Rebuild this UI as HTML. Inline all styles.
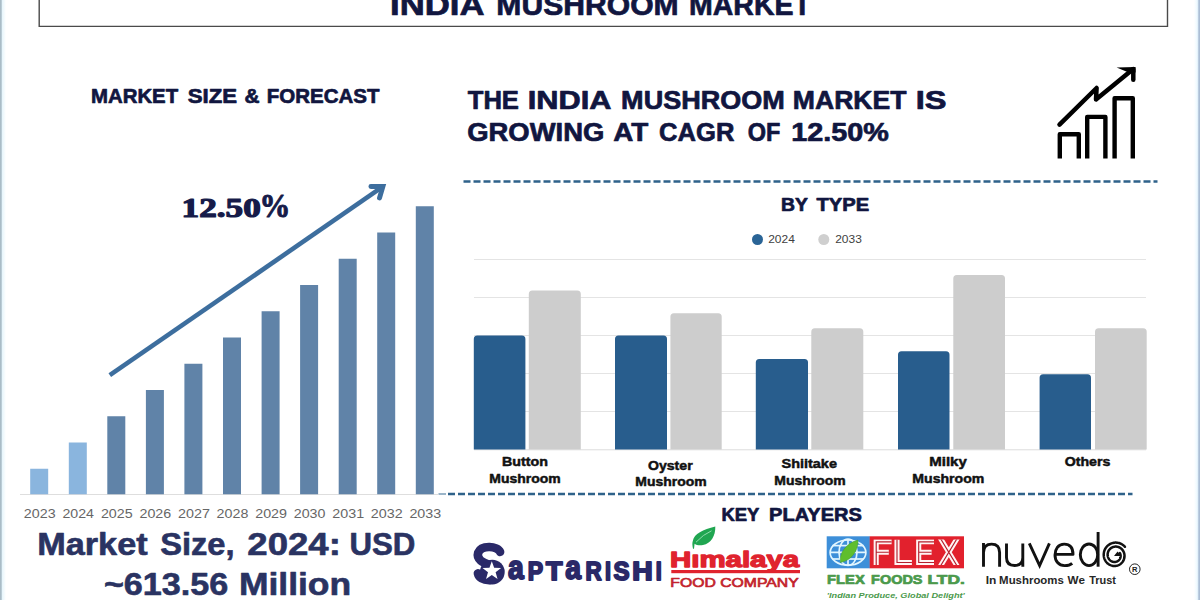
<!DOCTYPE html>
<html>
<head>
<meta charset="utf-8">
<title>India Mushroom Market</title>
<style>
  html, body { margin: 0; padding: 0; background: #ffffff; }
  body { width: 1200px; height: 600px; overflow: hidden; font-family: "Liberation Sans", sans-serif; }
  svg { display: block; }
  text { font-family: "Liberation Sans", sans-serif; }
  .serif { font-family: "Liberation Serif", serif; }
</style>
</head>
<body>
<svg width="1200" height="600" viewBox="0 0 1200 600">
  <defs>
    <linearGradient id="edgeL" x1="0" x2="1" y1="0" y2="0">
      <stop offset="0" stop-color="#a8bbc5"/>
      <stop offset="0.2" stop-color="#acbfca"/>
      <stop offset="0.4" stop-color="#e8f6fc"/>
      <stop offset="1" stop-color="#ffffff"/>
    </linearGradient>
    <linearGradient id="edgeR" x1="0" x2="1" y1="0" y2="0">
      <stop offset="0" stop-color="#ffffff"/>
      <stop offset="0.55" stop-color="#ecf9ff"/>
      <stop offset="0.7" stop-color="#c9daea"/>
      <stop offset="0.8" stop-color="#adc0d6"/>
      <stop offset="1" stop-color="#a9bcd4"/>
    </linearGradient>
  </defs>
  <rect x="0" y="0" width="1200" height="600" fill="#ffffff"/>
  <rect x="0" y="0" width="6" height="600" fill="url(#edgeL)"/>
  <rect x="1194" y="0" width="6" height="600" fill="url(#edgeR)"/>

  <!-- title box -->
  <path d="M39.2 -5 V26.4 H1167.5 V-5" fill="none" stroke="#4a4a4a" stroke-width="1.4"/>
  <g id="title">
    <text x="390.03" y="15.4" font-size="29.5" fill="#11163f" textLength="94.54" lengthAdjust="spacingAndGlyphs" font-weight="bold" stroke="#11163f" stroke-width="0.7" stroke-linejoin="round">INDIA</text>
    <text x="496.34" y="15.4" font-size="29.5" fill="#11163f" textLength="182.33" lengthAdjust="spacingAndGlyphs" font-weight="bold" stroke="#11163f" stroke-width="0.7" stroke-linejoin="round">MUSHROOM</text>
    <text x="688.94" y="15.4" font-size="29.5" fill="#11163f" textLength="122.01" lengthAdjust="spacingAndGlyphs" font-weight="bold" stroke="#11163f" stroke-width="0.7" stroke-linejoin="round">MARKET</text>
  </g>
  <g id="lhead">
    <text x="90.99" y="103" font-size="20.9" fill="#11163f" textLength="87.18" lengthAdjust="spacingAndGlyphs" font-weight="bold" stroke="#11163f" stroke-width="0.7" stroke-linejoin="round">MARKET</text>
    <text x="187.71" y="103" font-size="20.9" fill="#11163f" textLength="49.31" lengthAdjust="spacingAndGlyphs" font-weight="bold" stroke="#11163f" stroke-width="0.7" stroke-linejoin="round">SIZE</text>
    <text x="244.43" y="103" font-size="20.9" fill="#11163f" textLength="15.07" lengthAdjust="spacingAndGlyphs" font-weight="bold" stroke="#11163f" stroke-width="0.7" stroke-linejoin="round">&amp;</text>
    <text x="266.78" y="103" font-size="20.9" fill="#11163f" textLength="112.69" lengthAdjust="spacingAndGlyphs" font-weight="bold" stroke="#11163f" stroke-width="0.7" stroke-linejoin="round">FORECAST</text>
  </g>
  <g id="rhead">
    <text x="467.76" y="108.7" font-size="25" fill="#11163f" textLength="51.19" lengthAdjust="spacingAndGlyphs" font-weight="bold" stroke="#11163f" stroke-width="0.7" stroke-linejoin="round">THE</text>
    <text x="527.79" y="108.7" font-size="25" fill="#11163f" textLength="83.67" lengthAdjust="spacingAndGlyphs" font-weight="bold" stroke="#11163f" stroke-width="0.7" stroke-linejoin="round">INDIA</text>
    <text x="621.14" y="108.7" font-size="25" fill="#11163f" textLength="163.62" lengthAdjust="spacingAndGlyphs" font-weight="bold" stroke="#11163f" stroke-width="0.7" stroke-linejoin="round">MUSHROOM</text>
    <text x="792.87" y="108.7" font-size="25" fill="#11163f" textLength="113.66" lengthAdjust="spacingAndGlyphs" font-weight="bold" stroke="#11163f" stroke-width="0.7" stroke-linejoin="round">MARKET</text>
    <text x="915.77" y="108.7" font-size="25" fill="#11163f" textLength="30.75" lengthAdjust="spacingAndGlyphs" font-weight="bold" stroke="#11163f" stroke-width="0.7" stroke-linejoin="round">IS</text>
    <text x="467.23" y="140.9" font-size="25" fill="#11163f" textLength="137.13" lengthAdjust="spacingAndGlyphs" font-weight="bold" stroke="#11163f" stroke-width="0.7" stroke-linejoin="round">GROWING</text>
    <text x="613.2" y="140.9" font-size="25" fill="#11163f" textLength="35.04" lengthAdjust="spacingAndGlyphs" font-weight="bold" stroke="#11163f" stroke-width="0.7" stroke-linejoin="round">AT</text>
    <text x="659.1" y="140.9" font-size="25" fill="#11163f" textLength="75.27" lengthAdjust="spacingAndGlyphs" font-weight="bold" stroke="#11163f" stroke-width="0.7" stroke-linejoin="round">CAGR</text>
    <text x="747.69" y="140.9" font-size="25" fill="#11163f" textLength="32.62" lengthAdjust="spacingAndGlyphs" font-weight="bold" stroke="#11163f" stroke-width="0.7" stroke-linejoin="round">OF</text>
    <text x="791.34" y="140.9" font-size="25" fill="#11163f" textLength="97.57" lengthAdjust="spacingAndGlyphs" font-weight="bold" stroke="#11163f" stroke-width="0.7" stroke-linejoin="round">12.50%</text>
  </g>

  <!-- growth icon -->
  <g id="icon" fill="none" stroke="#000000" stroke-width="4.4" stroke-linecap="butt" stroke-linejoin="round">
    <path d="M1059.8 158.5 V134.3 H1078.8 V158.5"/>
    <path d="M1087.2 158.5 V116.9 H1105.4 V158.5"/>
    <path d="M1114.6 158.5 V98.3 H1132.8 V158.5"/>
    <path d="M1059.5 124.6 L1096.6 88 L1096 99.4 L1132.6 69.6" stroke-width="4.5" stroke-linecap="round" stroke-linejoin="round"/>
    <path d="M1133.3 69 V79.8" stroke-width="4.5" stroke-linecap="round"/>
    <path d="M1116.6 67.5 L1135.55 66.9 L1135.55 72.5 L1127.5 72 Z" fill="#000000" stroke="none"/>
  </g>

  <!-- dashed separators -->
  <line x1="463.5" y1="181.5" x2="1157.5" y2="181.5" stroke="#2f628a" stroke-width="2.6" stroke-dasharray="7 3"/>
  <line x1="448" y1="494" x2="1132.5" y2="494" stroke="#2f628a" stroke-width="2.5" stroke-dasharray="7 3"/>
  <line x1="438.5" y1="494" x2="446" y2="494" stroke="#9bb5c9" stroke-width="2"/>

  <!-- BY TYPE -->
  <text x="781.05" y="211.1" font-size="18.6" fill="#11163f" textLength="26.91" lengthAdjust="spacingAndGlyphs" font-weight="bold" stroke="#11163f" stroke-width="0.7" stroke-linejoin="round">BY</text>
    <text x="816.42" y="211.1" font-size="18.6" fill="#11163f" textLength="52.72" lengthAdjust="spacingAndGlyphs" font-weight="bold" stroke="#11163f" stroke-width="0.7" stroke-linejoin="round">TYPE</text>
  <circle cx="757.5" cy="239.5" r="5.5" fill="#2a6496"/>
  <text x="768.2" y="243.3" font-size="10.6" fill="#3f3f3f" textLength="26.65" lengthAdjust="spacingAndGlyphs">2024</text>
  <circle cx="823.8" cy="239.5" r="5.5" fill="#cfcfcf"/>
  <text x="835.2" y="243.3" font-size="10.6" fill="#3f3f3f" textLength="26.63" lengthAdjust="spacingAndGlyphs">2033</text>

  <!-- right chart grid -->
  <g stroke="#e4e4e4" stroke-width="1">
    <line x1="474" y1="259.5" x2="1146" y2="259.5"/>
    <line x1="474" y1="297.5" x2="1146" y2="297.5"/>
    <line x1="474" y1="335.5" x2="1146" y2="335.5"/>
    <line x1="474" y1="373.5" x2="1146" y2="373.5"/>
    <line x1="474" y1="411.5" x2="1146" y2="411.5"/>
    <line x1="474" y1="449.8" x2="1146" y2="449.8" stroke="#dcdcdc"/>
  </g>
  <g id="rbars">
    <path fill="#285d8d" d="M473.8 449.5 V338.9 a3.5 3.5 0 0 1 3.5 -3.5 H521.9 a3.5 3.5 0 0 1 3.5 3.5 V449.5 Z"/>
    <path fill="#cdcdcd" d="M528.8 449.5 V293.9 a3.5 3.5 0 0 1 3.5 -3.5 H577.3 a3.5 3.5 0 0 1 3.5 3.5 V449.5 Z"/>
    <path fill="#285d8d" d="M615 449.5 V338.9 a3.5 3.5 0 0 1 3.5 -3.5 H663.5 a3.5 3.5 0 0 1 3.5 3.5 V449.5 Z"/>
    <path fill="#cdcdcd" d="M670.4 449.5 V316.8 a3.5 3.5 0 0 1 3.5 -3.5 H718.2 a3.5 3.5 0 0 1 3.5 3.5 V449.5 Z"/>
    <path fill="#285d8d" d="M755.8 449.5 V362.5 a3.5 3.5 0 0 1 3.5 -3.5 H804.5 a3.5 3.5 0 0 1 3.5 3.5 V449.5 Z"/>
    <path fill="#cdcdcd" d="M811.3 449.5 V331.8 a3.5 3.5 0 0 1 3.5 -3.5 H859.8 a3.5 3.5 0 0 1 3.5 3.5 V449.5 Z"/>
    <path fill="#285d8d" d="M898 449.5 V354.8 a3.5 3.5 0 0 1 3.5 -3.5 H946.0 a3.5 3.5 0 0 1 3.5 3.5 V449.5 Z"/>
    <path fill="#cdcdcd" d="M953.3 449.5 V278.5 a3.5 3.5 0 0 1 3.5 -3.5 H1001.5 a3.5 3.5 0 0 1 3.5 3.5 V449.5 Z"/>
    <path fill="#285d8d" d="M1039.6 449.5 V377.7 a3.5 3.5 0 0 1 3.5 -3.5 H1087.5 a3.5 3.5 0 0 1 3.5 3.5 V449.5 Z"/>
    <path fill="#cdcdcd" d="M1095 449.5 V331.8 a3.5 3.5 0 0 1 3.5 -3.5 H1143.2 a3.5 3.5 0 0 1 3.5 3.5 V449.5 Z"/>
  </g>
  <g id="rlabels">
    <text x="502.0" y="465.9" font-size="13.2" fill="#111111" textLength="45.94" lengthAdjust="spacingAndGlyphs" font-weight="bold" stroke="#111111" stroke-width="0.5" stroke-linejoin="round">Button</text>
    <text x="489.32" y="482.8" font-size="13.2" fill="#111111" textLength="71.3" lengthAdjust="spacingAndGlyphs" font-weight="bold" stroke="#111111" stroke-width="0.5" stroke-linejoin="round">Mushroom</text>
    <text x="647.97" y="469.6" font-size="13.2" fill="#111111" textLength="44.69" lengthAdjust="spacingAndGlyphs" font-weight="bold" stroke="#111111" stroke-width="0.5" stroke-linejoin="round">Oyster</text>
    <text x="635.32" y="485.9" font-size="13.2" fill="#111111" textLength="71.3" lengthAdjust="spacingAndGlyphs" font-weight="bold" stroke="#111111" stroke-width="0.5" stroke-linejoin="round">Mushroom</text>
    <text x="781.53" y="468.4" font-size="13.2" fill="#111111" textLength="55.41" lengthAdjust="spacingAndGlyphs" font-weight="bold" stroke="#111111" stroke-width="0.5" stroke-linejoin="round">Shiitake</text>
    <text x="774.32" y="484.6" font-size="13.2" fill="#111111" textLength="71.3" lengthAdjust="spacingAndGlyphs" font-weight="bold" stroke="#111111" stroke-width="0.5" stroke-linejoin="round">Mushroom</text>
    <text x="929.24" y="466.1" font-size="13.2" fill="#111111" textLength="37.59" lengthAdjust="spacingAndGlyphs" font-weight="bold" stroke="#111111" stroke-width="0.5" stroke-linejoin="round">Milky</text>
    <text x="912.31" y="482.5" font-size="13.2" fill="#111111" textLength="72.02" lengthAdjust="spacingAndGlyphs" font-weight="bold" stroke="#111111" stroke-width="0.5" stroke-linejoin="round">Mushroom</text>
    <text x="1064.67" y="465.5" font-size="13.2" fill="#111111" textLength="45.66" lengthAdjust="spacingAndGlyphs" font-weight="bold" stroke="#111111" stroke-width="0.5" stroke-linejoin="round">Others</text>
  </g>

  <!-- left chart -->
  <line x1="20" y1="494.5" x2="438" y2="494.5" stroke="#dedede" stroke-width="1.2"/>
  <g id="lbars">
    <rect x="30.2" y="468.75" width="18" height="25.50" fill="#8ab5de"/>
    <rect x="68.8" y="442.50" width="18" height="51.75" fill="#8ab5de"/>
    <rect x="107.3" y="416.25" width="18" height="78.00" fill="#6083a8"/>
    <rect x="145.9" y="390.00" width="18" height="104.25" fill="#6083a8"/>
    <rect x="184.4" y="363.75" width="18" height="130.50" fill="#6083a8"/>
    <rect x="223.0" y="337.50" width="18" height="156.75" fill="#6083a8"/>
    <rect x="261.6" y="311.25" width="18" height="183.00" fill="#6083a8"/>
    <rect x="300.1" y="285.00" width="18" height="209.25" fill="#6083a8"/>
    <rect x="338.7" y="258.75" width="18" height="235.50" fill="#6083a8"/>
    <rect x="377.2" y="232.50" width="18" height="261.75" fill="#6083a8"/>
    <rect x="415.8" y="206.25" width="18" height="288.00" fill="#6083a8"/>
  </g>
  <g id="years">
    <text x="23.83" y="518.3" font-size="13.4" fill="#666666" textLength="31.74" lengthAdjust="spacingAndGlyphs">2023</text>
    <text x="62.4" y="518.3" font-size="13.4" fill="#666666" textLength="31.53" lengthAdjust="spacingAndGlyphs">2024</text>
    <text x="100.95" y="518.3" font-size="13.4" fill="#666666" textLength="31.72" lengthAdjust="spacingAndGlyphs">2025</text>
    <text x="139.51" y="518.3" font-size="13.4" fill="#666666" textLength="31.74" lengthAdjust="spacingAndGlyphs">2026</text>
    <text x="178.07" y="518.3" font-size="13.4" fill="#666666" textLength="31.84" lengthAdjust="spacingAndGlyphs">2027</text>
    <text x="216.63" y="518.3" font-size="13.4" fill="#666666" textLength="31.74" lengthAdjust="spacingAndGlyphs">2028</text>
    <text x="255.19" y="518.3" font-size="13.4" fill="#666666" textLength="31.8" lengthAdjust="spacingAndGlyphs">2029</text>
    <text x="293.75" y="518.3" font-size="13.4" fill="#666666" textLength="31.67" lengthAdjust="spacingAndGlyphs">2030</text>
    <text x="332.31" y="518.3" font-size="13.4" fill="#666666" textLength="31.82" lengthAdjust="spacingAndGlyphs">2031</text>
    <text x="370.87" y="518.3" font-size="13.4" fill="#666666" textLength="31.84" lengthAdjust="spacingAndGlyphs">2032</text>
    <text x="409.43" y="518.3" font-size="13.4" fill="#666666" textLength="31.74" lengthAdjust="spacingAndGlyphs">2033</text>
  </g>
  <!-- growth arrow -->
  <g fill="none" stroke="#3d6e9e" stroke-width="4.6" stroke-linecap="round" stroke-linejoin="miter">
    <line x1="109.8" y1="375.2" x2="382" y2="187.2" stroke-linecap="butt"/>
    <path d="M370.9 186.5 L382.9 186.5 L379.5 198" stroke-width="4.9"/>
  </g>
  <text x="181.58" y="216.9" font-size="27.6" fill="#161b49" textLength="79.16" lengthAdjust="spacingAndGlyphs" font-weight="bold" class="serif" stroke="#161b49" stroke-width="1.2" stroke-linejoin="round">12.50</text>
  <text x="259.54" y="217.3" font-size="33.4" fill="#161b49" textLength="30.86" lengthAdjust="spacingAndGlyphs" font-weight="bold" class="serif" stroke="#161b49" stroke-width="1.0" stroke-linejoin="round">%</text>

  <!-- market size text -->
  <g id="msize">
    <text x="37.21" y="555.4" font-size="30.6" fill="#2a3362" textLength="110.41" lengthAdjust="spacingAndGlyphs" font-weight="bold" stroke="#2a3362" stroke-width="0.6" stroke-linejoin="round">Market</text>
    <text x="160.16" y="555.4" font-size="30.6" fill="#2a3362" textLength="74.43" lengthAdjust="spacingAndGlyphs" font-weight="bold" stroke="#2a3362" stroke-width="0.6" stroke-linejoin="round">Size,</text>
    <text x="247.33" y="555.4" font-size="30.6" fill="#2a3362" textLength="93.48" lengthAdjust="spacingAndGlyphs" font-weight="bold" stroke="#2a3362" stroke-width="0.6" stroke-linejoin="round">2024:</text>
    <text x="349.42" y="555.4" font-size="30.6" fill="#2a3362" textLength="65.99" lengthAdjust="spacingAndGlyphs" font-weight="bold" stroke="#2a3362" stroke-width="0.6" stroke-linejoin="round">USD</text>
    <text x="103.95" y="594.6" font-size="31" fill="#2a3362" textLength="124.28" lengthAdjust="spacingAndGlyphs" font-weight="bold" stroke="#2a3362" stroke-width="0.6" stroke-linejoin="round">~613.56</text>
    <text x="238.93" y="594.6" font-size="31" fill="#2a3362" textLength="112.27" lengthAdjust="spacingAndGlyphs" font-weight="bold" stroke="#2a3362" stroke-width="0.6" stroke-linejoin="round">Million</text>
  </g>

  <!-- KEY PLAYERS -->
  <text x="721.41" y="520.6" font-size="18.8" fill="#11163f" textLength="38.04" lengthAdjust="spacingAndGlyphs" font-weight="bold" stroke="#11163f" stroke-width="0.7" stroke-linejoin="round">KEY</text>
    <text x="769.03" y="520.6" font-size="18.8" fill="#11163f" textLength="92.88" lengthAdjust="spacingAndGlyphs" font-weight="bold" stroke="#11163f" stroke-width="0.7" stroke-linejoin="round">PLAYERS</text>

  <g id="saptarishi">
    <g fill="none" stroke="#2a2968" stroke-width="8.6" stroke-linecap="round" stroke-linejoin="round">
      <path d="M500.1 551.9 C497.6 546 481.6 544.6 478.2 552.6 C476 560 483.5 562.6 491 565.5"/>
      <path d="M477.9 573.4 C478.8 577.6 483 580.3 489.5 580.2"/>
    </g>
    <circle cx="492.3" cy="572.1" r="12.4" fill="#2a2968"/>
    <polygon points="491.80,561.20 494.15,567.76 501.12,567.97 495.60,572.24 497.56,578.93 491.80,575.00 486.04,578.93 488.00,572.24 482.48,567.97 489.45,567.76" fill="#ffffff"/>
    <text x="527.71" y="579.6" font-size="25.4" fill="#2a2968" textLength="15.32" lengthAdjust="spacingAndGlyphs" font-weight="bold" stroke="#2a2968" stroke-width="1.9" stroke-linejoin="round">P</text>
    <text x="545.95" y="579.6" font-size="25.4" fill="#2a2968" textLength="16.39" lengthAdjust="spacingAndGlyphs" font-weight="bold" stroke="#2a2968" stroke-width="1.9" stroke-linejoin="round">T</text>
    <text x="585.55" y="579.6" font-size="25.4" fill="#2a2968" textLength="16.16" lengthAdjust="spacingAndGlyphs" font-weight="bold" stroke="#2a2968" stroke-width="1.9" stroke-linejoin="round">R</text>
    <text x="605.01" y="579.6" font-size="25.4" fill="#2a2968" textLength="5.98" lengthAdjust="spacingAndGlyphs" font-weight="bold" stroke="#2a2968" stroke-width="1.9" stroke-linejoin="round">I</text>
    <text x="613.56" y="579.6" font-size="25.4" fill="#2a2968" textLength="16.03" lengthAdjust="spacingAndGlyphs" font-weight="bold" stroke="#2a2968" stroke-width="1.9" stroke-linejoin="round">S</text>
    <text x="632.16" y="579.6" font-size="25.4" fill="#2a2968" textLength="20.39" lengthAdjust="spacingAndGlyphs" font-weight="bold" stroke="#2a2968" stroke-width="1.9" stroke-linejoin="round">H</text>
    <text x="655.81" y="579.6" font-size="25.4" fill="#2a2968" textLength="5.98" lengthAdjust="spacingAndGlyphs" font-weight="bold" stroke="#2a2968" stroke-width="1.9" stroke-linejoin="round">I</text>
    <text x="507.92" y="579.4" font-size="32.6" fill="#2a2968" textLength="15.75" lengthAdjust="spacingAndGlyphs" font-weight="bold" stroke="#2a2968" stroke-width="1.9" stroke-linejoin="round">a</text>
    <text x="565.32" y="579.4" font-size="32.6" fill="#2a2968" textLength="15.75" lengthAdjust="spacingAndGlyphs" font-weight="bold" stroke="#2a2968" stroke-width="1.9" stroke-linejoin="round">a</text>
  </g>
  <g id="himalaya">
    <path d="M693 548.8 C692.4 545.5 692 543.4 692.8 541 C694 534 703 529.6 715.3 526.6 C715.6 536 711 543.6 703 545.1 C699.4 545.7 696.4 545.2 694.6 543.8 L694 548.8 Z" fill="#20a651"/>
    <path d="M696 542.2 Q703 534.5 711.5 530.8" fill="none" stroke="#8fdcab" stroke-width="1"/>
    <text x="669.98" y="566.6" font-size="22.5" fill="#e0232e" textLength="129.18" lengthAdjust="spacingAndGlyphs" font-weight="bold" stroke="#e0232e" stroke-width="1.3" stroke-linejoin="round">Hımalaya</text>
    <rect x="671.3" y="570" width="128.7" height="3.2" fill="#e0232e"/>
    <text x="670.37" y="586.6" font-size="13.6" fill="#c3242d" textLength="128.32" lengthAdjust="spacingAndGlyphs" stroke="#c3242d" stroke-width="0.7" stroke-linejoin="round">FOOD COMPANY</text>
  </g>
  <g id="flex">
    <rect x="826.7" y="536.3" width="43.2" height="32" fill="#3d8fd9"/>
    <rect x="869.7" y="536.3" width="94.3" height="32" fill="#e2212d"/>
    <g fill="none" stroke="#e2f6ff" stroke-width="1.7">
      <ellipse cx="848" cy="552.6" rx="17.9" ry="12.6"/>
      <ellipse cx="848" cy="552.3" rx="9" ry="13.2"/>
      <line x1="848" y1="539" x2="848" y2="565.6"/>
      <line x1="830" y1="552.3" x2="866" y2="552.3"/>
      <line x1="832.5" y1="545.6" x2="863.5" y2="545.6"/>
      <line x1="832.5" y1="559" x2="863.5" y2="559"/>
    </g>
    <path d="M840.5 562.5 C839 554 845 543.5 858 540 C858.5 550 852 560.5 840.5 562.5 Z" fill="#5fbe2d" stroke="#3c9a33" stroke-width="0.5"/>
    <clipPath id="flexclip"><rect x="870" y="539.4" width="94" height="25.5"/></clipPath>
    <g clip-path="url(#flexclip)" fill="none" stroke-linejoin="miter" stroke-linecap="butt">
      <path d="M876.2 564.9 V541.8 H891.6 M876.2 552.2 H888.8 M897 539.4 V562.5 H911.9 M934 541.8 H918.7 V562.5 H934 M918.7 552.2 H931.6 M939.6 537 L958 567.5 M958 537 L939.6 567.5" stroke="#fff4f4" stroke-width="5.1"/>
      <path d="M876.2 564.9 V541.8 H891.6 M876.2 552.2 H888.8 M897 539.4 V562.5 H911.9 M934 541.8 H918.7 V562.5 H934 M918.7 552.2 H931.6 M939.6 537 L958 567.5 M958 537 L939.6 567.5" stroke="#b4202e" stroke-width="1.15"/>
    </g>
    <text x="827.06" y="583.6" font-size="12.4" fill="#4b9a4c" textLength="37.72" lengthAdjust="spacingAndGlyphs" font-weight="bold" stroke="#4b9a4c" stroke-width="0.7" stroke-linejoin="round">FLEX</text>
    <text x="871.08" y="583.6" font-size="12.4" fill="#4b9a4c" textLength="51.43" lengthAdjust="spacingAndGlyphs" font-weight="bold" stroke="#4b9a4c" stroke-width="0.7" stroke-linejoin="round">FOODS</text>
    <text x="927.53" y="583.6" font-size="12.4" fill="#4b9a4c" textLength="37.28" lengthAdjust="spacingAndGlyphs" font-weight="bold" stroke="#4b9a4c" stroke-width="0.7" stroke-linejoin="round">LTD.</text>
    <text x="826.81" y="597.6" font-size="8" fill="#4b9a4c" textLength="137.94" lengthAdjust="spacingAndGlyphs" font-weight="bold" font-style="italic">'Indian Produce, Global Delight'</text>
  </g>
  <g id="nuvedo">
    <g fill="none" stroke="#111111" stroke-width="2.9" stroke-linecap="butt" stroke-linejoin="round">
      <path d="M983.5 543 V566.7 M983.5 552.5 C983.5 546.5 987 544.1 991.6 544.1 C996.6 544.1 999.6 546.8 999.6 552.5 V566.7"/>
      <path d="M1006.5 543.4 V557.5 C1006.5 563 1009.6 565.5 1014.6 565.5 C1019.6 565.5 1022.8 563 1022.8 557.5 M1022.8 543.4 V566.7"/>
      <path d="M1029.3 543.4 L1039.6 565.6 L1049.4 543.4" stroke-linejoin="miter"/>
      <path d="M1055.2 554.4 H1073 C1073 547.2 1069.6 544.1 1064.2 544.1 C1058.2 544.1 1055 549 1055 555 C1055 561 1058.6 565.6 1064.6 565.6 C1068 565.6 1070.6 564.8 1072.2 563.4"/>
      <ellipse cx="1089" cy="554.8" rx="8.7" ry="10.8"/>
      <path d="M1098.1 532 V566.7"/>
    </g>
    <path d="M1119.84 553.02 L1120.00 553.31 L1120.15 553.62 L1120.28 553.93 L1120.38 554.25 L1120.48 554.58 L1120.55 554.92 L1120.60 555.27 L1120.63 555.62 L1120.63 555.97 L1120.62 556.33 L1120.59 556.69 L1120.53 557.04 L1120.45 557.40 L1120.35 557.75 L1120.23 558.09 L1120.08 558.43 L1119.92 558.77 L1119.73 559.09 L1119.53 559.40 L1119.30 559.70 L1119.05 559.99 L1118.79 560.26 L1118.51 560.52 L1118.21 560.76 L1117.90 560.98 L1117.57 561.18 L1117.22 561.37 L1116.87 561.53 L1116.50 561.67 L1116.12 561.78 L1115.74 561.87 L1115.35 561.94 L1114.95 561.98 L1114.55 562.00 L1114.14 561.99 L1113.74 561.96 L1113.33 561.89 L1112.93 561.81 L1112.53 561.69 L1112.14 561.56 L1111.75 561.39 L1111.37 561.20 L1111.01 560.98 L1110.65 560.74 L1110.31 560.48 L1109.98 560.19 L1109.67 559.88 L1109.37 559.56 L1109.10 559.21 L1108.84 558.84 L1108.61 558.45 L1108.40 558.05 L1108.21 557.63 L1108.05 557.20 L1107.91 556.76 L1107.80 556.30 L1107.71 555.84 L1107.66 555.37 L1107.63 554.90 L1107.63 554.42 L1107.66 553.94 L1107.71 553.47 L1107.80 552.99 L1107.92 552.52 L1108.06 552.05 L1108.24 551.60 L1108.44 551.15 L1108.67 550.71 L1108.92 550.29 L1109.20 549.88 L1109.51 549.49 L1109.84 549.12 L1110.20 548.76 L1110.58 548.43 L1110.98 548.13 L1111.40 547.84 L1111.83 547.59 L1112.29 547.36 L1112.75 547.16 L1113.24 546.99 L1113.73 546.84 L1114.23 546.74 L1114.74 546.66 L1115.26 546.61 L1115.78 546.60 L1116.31 546.62 L1116.83 546.67 L1117.35 546.76 L1117.87 546.88 L1118.38 547.04 L1118.88 547.23 L1119.38 547.45 L1119.86 547.70 L1120.33 547.98 L1120.78 548.30 L1121.21 548.64 L1121.63 549.02 L1122.02 549.42 L1122.39 549.84 L1122.73 550.29 L1123.05 550.77 L1123.34 551.26 L1123.60 551.78 L1123.83 552.31 L1124.03 552.86 L1124.20 553.42 L1124.33 553.99 L1124.43 554.58 L1124.49 555.17 L1124.52 555.77 L1124.51 556.37 L1124.47 556.97 L1124.39 557.57 L1124.27 558.16 L1124.12 558.75 L1123.93 559.33 L1123.71 559.90 L1123.45 560.46 L1123.16 561.00 L1122.83 561.52 L1122.47 562.03 L1122.09 562.51 L1121.67 562.97 L1121.22 563.40 L1120.75 563.80 L1120.25 564.18 L1119.73 564.52 L1119.18 564.83 L1118.62 565.11 L1118.04 565.35 L1117.44 565.56 L1116.83 565.73 L1116.21 565.86 L1115.58 565.95 L1114.94 565.99 L1114.30 566.00 L1113.66 565.97 L1113.02 565.90 L1112.38 565.78 L1111.74 565.63 L1111.12 565.43 L1110.51 565.20 L1109.91 564.92 L1109.32 564.61 L1108.75 564.26 L1108.21 563.87 L1107.68 563.44 L1107.18 562.99 L1106.71 562.50 L1106.26 561.97 L1105.85 561.42 L1105.47 560.84 L1105.12 560.24 L1104.81 559.61 L1104.54 558.97 L1104.30 558.30 L1104.10 557.62 L1103.95 556.92 L1103.83 556.22 L1103.76 555.50 L1103.73 554.78 L1103.75 554.06 L1103.81 553.34 L1103.91 552.62 L1104.05 551.90 L1104.24 551.20 L1104.47 550.50 L1104.74 549.82 L1105.06 549.15 L1105.41 548.51 L1105.81 547.88 L1106.24 547.28 L1106.71 546.71 L1107.21 546.16 L1107.75 545.65 L1108.31 545.17 L1108.91 544.72 L1109.54 544.32 L1110.19 543.95 L1110.86 543.62 L1111.56 543.34 L1112.27 543.10 L1112.99 542.90 L1113.73 542.76 L1114.48 542.65 L1115.24 542.60 L1116.00 542.59 L1116.76 542.63 L1117.52 542.73 L1118.28 542.86 L1119.03 543.05 L1119.76 543.29 L1120.49 543.57 L1121.20 543.90 L1121.89 544.27 L1122.56 544.69 L1123.20 545.15 L1123.81 545.66 L1124.40 546.20 L1124.96 546.78" fill="none" stroke="#111111" stroke-width="2.5" stroke-linecap="round"/>
    <path d="M1114 556 L1117.6 551.4 L1121.2 556 Z" fill="#111111"/>
    <circle cx="1134.8" cy="569.2" r="5.3" fill="none" stroke="#222222" stroke-width="1"/>
    <text x="1131.99" y="571.9" font-size="7.4" fill="#222222" textLength="5.46" lengthAdjust="spacingAndGlyphs" font-weight="bold">R</text>
    <text x="985.8" y="583.6" font-size="10.2" fill="#262626" textLength="10.64" lengthAdjust="spacingAndGlyphs" font-weight="bold">In</text>
    <text x="999.14" y="583.6" font-size="10.2" fill="#262626" textLength="64.73" lengthAdjust="spacingAndGlyphs" font-weight="bold">Mushrooms</text>
    <text x="1067.59" y="583.6" font-size="10.2" fill="#262626" textLength="17.31" lengthAdjust="spacingAndGlyphs" font-weight="bold">We</text>
    <text x="1089.28" y="583.6" font-size="10.2" fill="#262626" textLength="26.75" lengthAdjust="spacingAndGlyphs" font-weight="bold">Trust</text>
  </g>
</svg>
</body>
</html>
